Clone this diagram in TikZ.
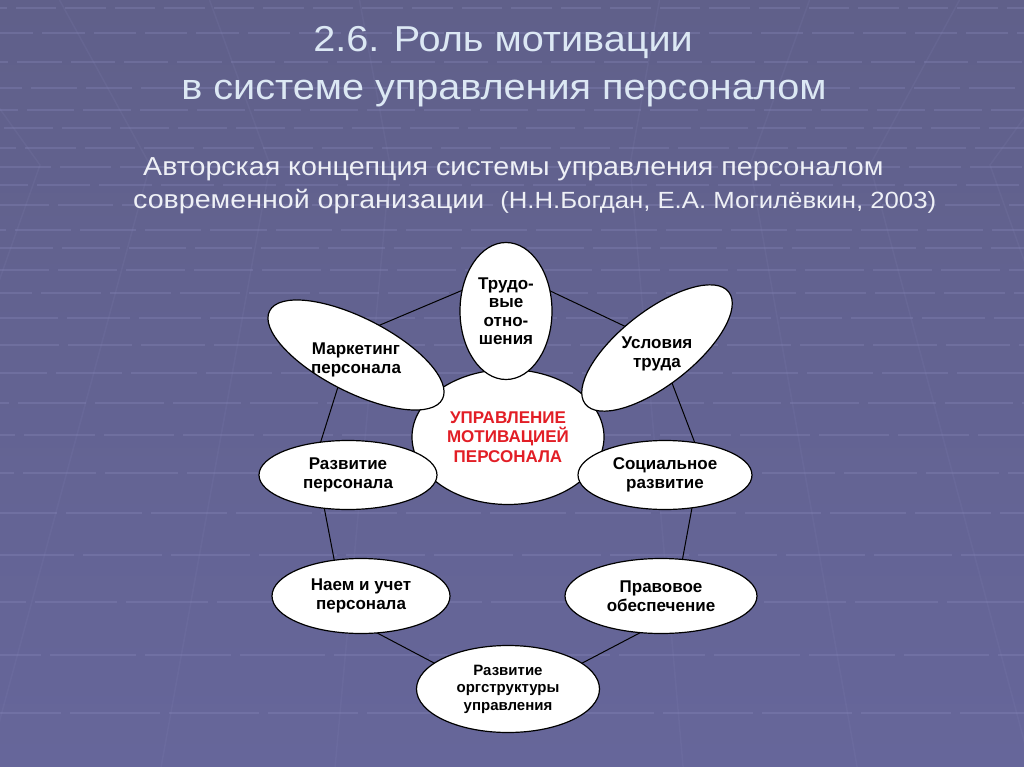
\documentclass[tikz,border=0pt]{standalone}
\usepackage{fontspec}
\setmainfont{Liberation Sans}
\newfontfamily\slidefont[FakeStretch=1.1]{Liberation Sans}
\usepackage{tikz}
\usetikzlibrary{positioning,shapes.geometric}

\definecolor{bgtop}{RGB}{96,96,138}
\definecolor{bgmid}{RGB}{86,86,128}
\definecolor{bgbottom}{RGB}{102,102,154}
\definecolor{tilegap}{RGB}{140,140,190}
\definecolor{titleblue}{RGB}{220,232,244}
\definecolor{subwhite}{RGB}{238,240,246}
\definecolor{motivred}{RGB}{226,30,38}

\tikzset{
  petal/.style={ellipse, draw=black, fill=white, line width=1.2pt, inner sep=0pt},
  petaltext/.style={align=center, inner sep=0pt, font=\bfseries\fontsize{17}{18.5}\selectfont},
  ring/.style={draw=black, line width=1pt},
}

\begin{document}
\begin{tikzpicture}[x=1pt, y=-1pt]
  \useasboundingbox (0,0) rectangle (1024,767);

  % fon
  \begin{scope}
    \clip (0,0) rectangle (1024,767);
    \shade[top color=bgtop, middle color=bgmid, bottom color=bgbottom] (0,0) rectangle (1024,767);
    \foreach \y [evaluate=\y as \len using 40+0.07*\y, evaluate=\y as \ph using {mod(\y*13,70)}]
      in {8,33,62,88,110,128,148,167,185,205,230,248,270,293,318,345,373,403,435,473,513,555,602,655,713}
      \draw[tilegap, line width=2pt, opacity=0.3, dash pattern=on \len pt off 9pt, dash phase=\ph pt] (0,\y) -- (1024,\y);
    \foreach \x in {40,150,270,390,630,750,870,990}
      \draw[tilegap, line width=1.5pt, opacity=0.12] ({\x+(\x-512)*0.25},0) -- (\x,165) -- ({\x+(\x-512)*0.45},767);
  \end{scope}

  % titulo
  \node[anchor=base, inner sep=0pt, text=titleblue, font=\slidefont\fontsize{36}{40}\selectfont] (title1) at (503,52) {2.6. Роль мотивации};
  \node[anchor=base, inner sep=0pt, text=titleblue, font=\slidefont\fontsize{36}{40}\selectfont] (title2) at (504,100) {в системе управления персоналом};
  \node[anchor=base west, inner sep=0pt, text=subwhite, font=\slidefont\fontsize{26}{30}\selectfont] (sub1) at (143,176) {Авторская концепция системы управления персоналом};
  \node[anchor=base west, inner sep=0pt, text=subwhite, font=\slidefont\fontsize{26}{30}\selectfont] (sub2) at (133,209) {современной организации\ \ {\fontsize{23.4}{28}\selectfont(Н.Н.Богдан, Е.А. Могилёвкин, 2003)}};

  % kontur
  \coordinate (trud-v) at (508,271);
  \coordinate (usl-v) at (656,341);
  \coordinate (soc-v) at (701,459);
  \coordinate (prav-v) at (672,616);
  \coordinate (org-v) at (508,702);
  \coordinate (naem-v) at (345,616);
  \coordinate (razv-v) at (315,460);
  \coordinate (mark-v) at (354,336);
  \draw[ring] (trud-v) -- (usl-v) -- (soc-v) -- (prav-v) -- (org-v) -- (naem-v) -- (razv-v) -- (mark-v) -- cycle;

  \node[petal, petaltext, text=motivred, minimum width=192pt, minimum height=135pt,
        font=\bfseries\fontsize{17}{19.5}\selectfont] (upr) at (508,437) {УПРАВЛЕНИЕ\\МОТИВАЦИЕЙ\\ПЕРСОНАЛА};

  \node[petal, petaltext, minimum width=92pt, minimum height=137pt] (trud) at (506,311) {Трудо-\\вые\\отно-\\шения};
  \node[petal, rotate=-27, minimum width=194pt, minimum height=74pt] (mark) at (356,355) {};
  \node[petaltext] (mark-txt) at (356,360) {Маркетинг\\персонала};
  \node[petal, rotate=38, minimum width=182pt, minimum height=74pt] (usl) at (657,348) {};
  \node[petaltext] (usl-txt) at (657,354) {Условия\\труда};

  \node[petal, petaltext, minimum width=178pt, minimum height=69pt] (razv) at (348,475) {Развитие\\персонала};
  \node[petal, petaltext, minimum width=174pt, minimum height=69pt] (soc) at (665,475) {Социальное\\развитие};
  \node[petal, petaltext, minimum width=178pt, minimum height=75pt] (naem) at (361,596) {Наем и учет\\персонала};
  \node[petal, petaltext, minimum width=192pt, minimum height=75pt] (prav) at (661,596) {Правовое\\обеспечение};
  \node[petal, petaltext, minimum width=183pt, minimum height=87pt,
        font=\bfseries\fontsize{15}{17.5}\selectfont] (org) at (508,689) {Развитие\\оргструктуры\\управления};
\end{tikzpicture}
\end{document}
